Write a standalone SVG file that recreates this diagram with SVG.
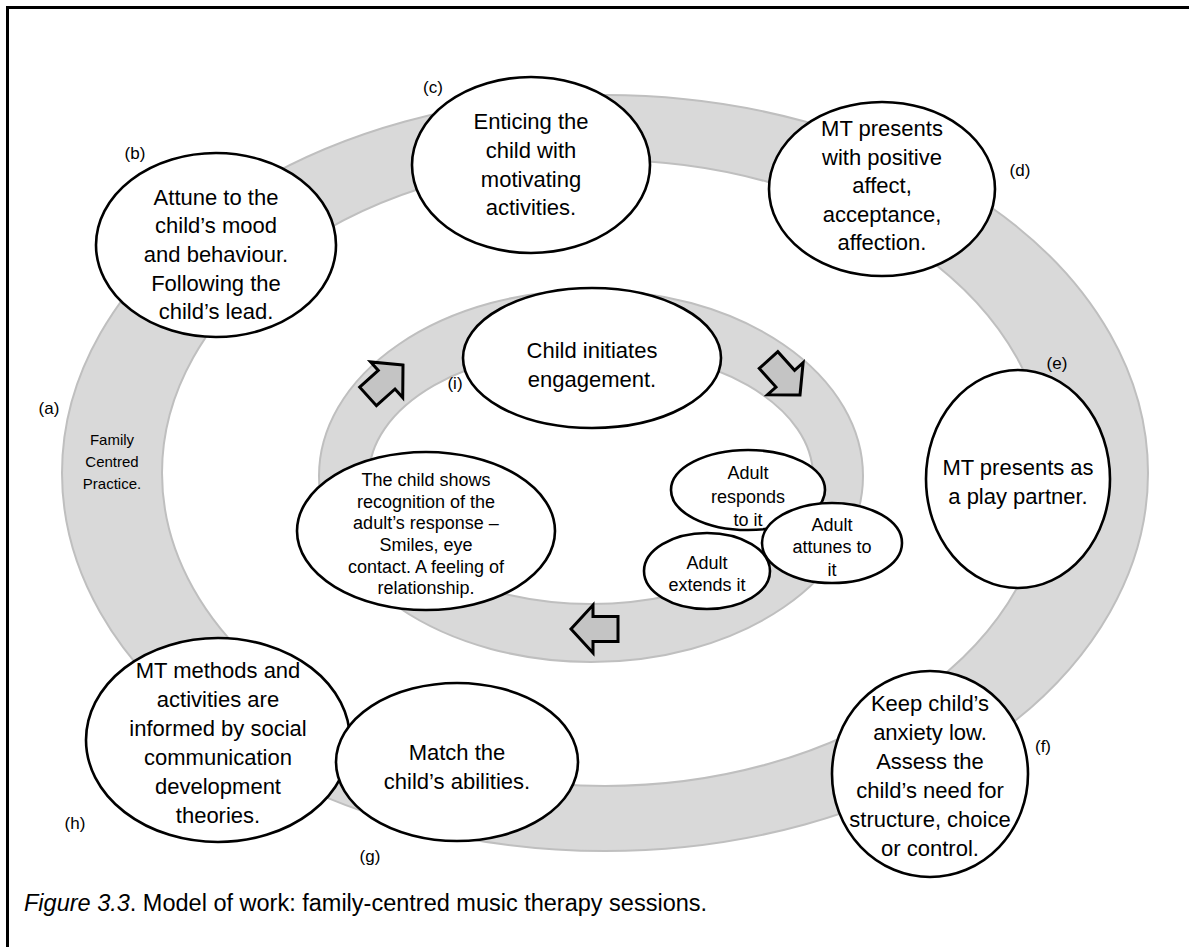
<svg xmlns="http://www.w3.org/2000/svg" width="1189" height="947" viewBox="0 0 1189 947">
<style>
.band{fill:#d9d9d9;stroke:#bfbfbf;stroke-width:2;fill-rule:evenodd}
.node{fill:#ffffff;stroke:#000000;stroke-width:2.6}
.arrow{fill:#c4c4c4;stroke:#000000;stroke-width:3;stroke-linejoin:miter}
text{font-family:"Liberation Sans",Arial,sans-serif;fill:#000000;text-anchor:middle}
.t{font-size:22px}
.s{font-size:18px}
.lbl{font-size:17px}
.fam{font-size:15px}
.cap{font-size:23.5px;text-anchor:start}
</style>
<defs>
<polygon id="blk" points="0,0 -22,-24 -22,-12.5 -47,-12.5 -47,12.5 -22,12.5 -22,24"/>
</defs>
<rect width="1189" height="947" fill="#ffffff"/>
<path d="M7.5,947 V7.5 H1189" fill="none" stroke="#000000" stroke-width="3"/>
<g id="rings">
<path class="band" d="M62,473 a543,378 0 1,0 1086,0 a543,378 0 1,0 -1086,0 Z M162,473 a443,313 0 1,0 886,0 a443,313 0 1,0 -886,0 Z"/>
<path class="band" d="M319,476 a272,186 0 1,0 544,0 a272,186 0 1,0 -544,0 Z M369,476 a222,128 0 1,0 444,0 a222,128 0 1,0 -444,0 Z"/>
</g>
<g id="connectors">
<use href="#blk" class="arrow" transform="translate(403,365) rotate(-42)"/>
<use href="#blk" class="arrow" transform="translate(800,395) rotate(48)"/>
<use href="#blk" class="arrow" transform="translate(571,629) rotate(180)"/>
</g>
<g id="labels">
<text class="lbl" x="49" y="414">(a)</text>
<text class="lbl" x="135" y="159">(b)</text>
<text class="lbl" x="433" y="93">(c)</text>
<text class="lbl" x="1020" y="176">(d)</text>
<text class="lbl" x="1057" y="369">(e)</text>
<text class="lbl" x="1043" y="752">(f)</text>
<text class="lbl" x="370" y="862">(g)</text>
<text class="lbl" x="75" y="829">(h)</text>
<text class="lbl" x="455" y="389">(i)</text>
</g>
<g id="family">
<text class="fam" x="112" y="445">Family</text>
<text class="fam" x="112" y="467">Centred</text>
<text class="fam" x="112" y="489">Practice.</text>
</g>
<g id="node-b">
<ellipse class="node" cx="216" cy="245" rx="120" ry="92"/>
<text class="t" x="216" y="205">Attune to the</text>
<text class="t" x="216" y="233">child’s mood</text>
<text class="t" x="216" y="262">and behaviour.</text>
<text class="t" x="216" y="291">Following the</text>
<text class="t" x="216" y="319">child’s lead.</text>
</g>
<g id="node-c">
<ellipse class="node" cx="531" cy="165" rx="119" ry="88"/>
<text class="t" x="531" y="129">Enticing the</text>
<text class="t" x="531" y="158">child with</text>
<text class="t" x="531" y="187">motivating</text>
<text class="t" x="531" y="215">activities.</text>
</g>
<g id="node-d">
<ellipse class="node" cx="882" cy="189" rx="113" ry="87"/>
<text class="t" x="882" y="136">MT presents</text>
<text class="t" x="882" y="165">with positive</text>
<text class="t" x="882" y="193">affect,</text>
<text class="t" x="882" y="222">acceptance,</text>
<text class="t" x="882" y="250">affection.</text>
</g>
<g id="node-e">
<ellipse class="node" cx="1018" cy="479" rx="92" ry="109"/>
<text class="t" x="1018" y="475">MT presents as</text>
<text class="t" x="1018" y="504">a play partner.</text>
</g>
<g id="node-f">
<ellipse class="node" cx="930" cy="774" rx="98" ry="103"/>
<text class="t" x="930" y="711">Keep child’s</text>
<text class="t" x="930" y="740">anxiety low.</text>
<text class="t" x="930" y="769">Assess the</text>
<text class="t" x="930" y="798">child’s need for</text>
<text class="t" x="930" y="827">structure, choice</text>
<text class="t" x="930" y="856">or control.</text>
</g>
<g id="node-h">
<ellipse class="node" cx="218" cy="740" rx="132" ry="102"/>
<text class="t" x="218" y="678">MT methods and</text>
<text class="t" x="218" y="707">activities are</text>
<text class="t" x="218" y="736">informed by social</text>
<text class="t" x="218" y="765">communication</text>
<text class="t" x="218" y="794">development</text>
<text class="t" x="218" y="823">theories.</text>
</g>
<g id="node-g">
<ellipse class="node" cx="457" cy="762" rx="121" ry="79"/>
<text class="t" x="457" y="760">Match the</text>
<text class="t" x="457" y="789">child’s abilities.</text>
</g>
<g id="node-initiates">
<ellipse class="node" cx="592" cy="358" rx="129" ry="70"/>
<text class="t" x="592" y="358">Child initiates</text>
<text class="t" x="592" y="387">engagement.</text>
</g>
<g id="node-shows">
<ellipse class="node" cx="426" cy="531" rx="129" ry="79"/>
<text class="s" x="426" y="486">The child shows</text>
<text class="s" x="426" y="508">recognition of the</text>
<text class="s" x="426" y="529">adult’s response –</text>
<text class="s" x="426" y="551">Smiles, eye</text>
<text class="s" x="426" y="573">contact. A feeling of</text>
<text class="s" x="426" y="594">relationship.</text>
</g>
<g id="node-responds">
<ellipse class="node" cx="748" cy="490" rx="77" ry="40"/>
<text class="s" x="748" y="479">Adult</text>
<text class="s" x="748" y="503">responds</text>
<text class="s" x="748" y="526">to it</text>
</g>
<g id="node-attunes">
<ellipse class="node" cx="832" cy="543" rx="70" ry="40"/>
<text class="s" x="832" y="531">Adult</text>
<text class="s" x="832" y="553">attunes to</text>
<text class="s" x="832" y="576">it</text>
</g>
<g id="node-extends">
<ellipse class="node" cx="707" cy="571" rx="63" ry="38"/>
<text class="s" x="707" y="569">Adult</text>
<text class="s" x="707" y="591">extends it</text>
</g>
<text class="cap" x="24" y="911"><tspan font-style="italic">Figure 3.3</tspan>. Model of work: family-centred music therapy sessions.</text>
</svg>
